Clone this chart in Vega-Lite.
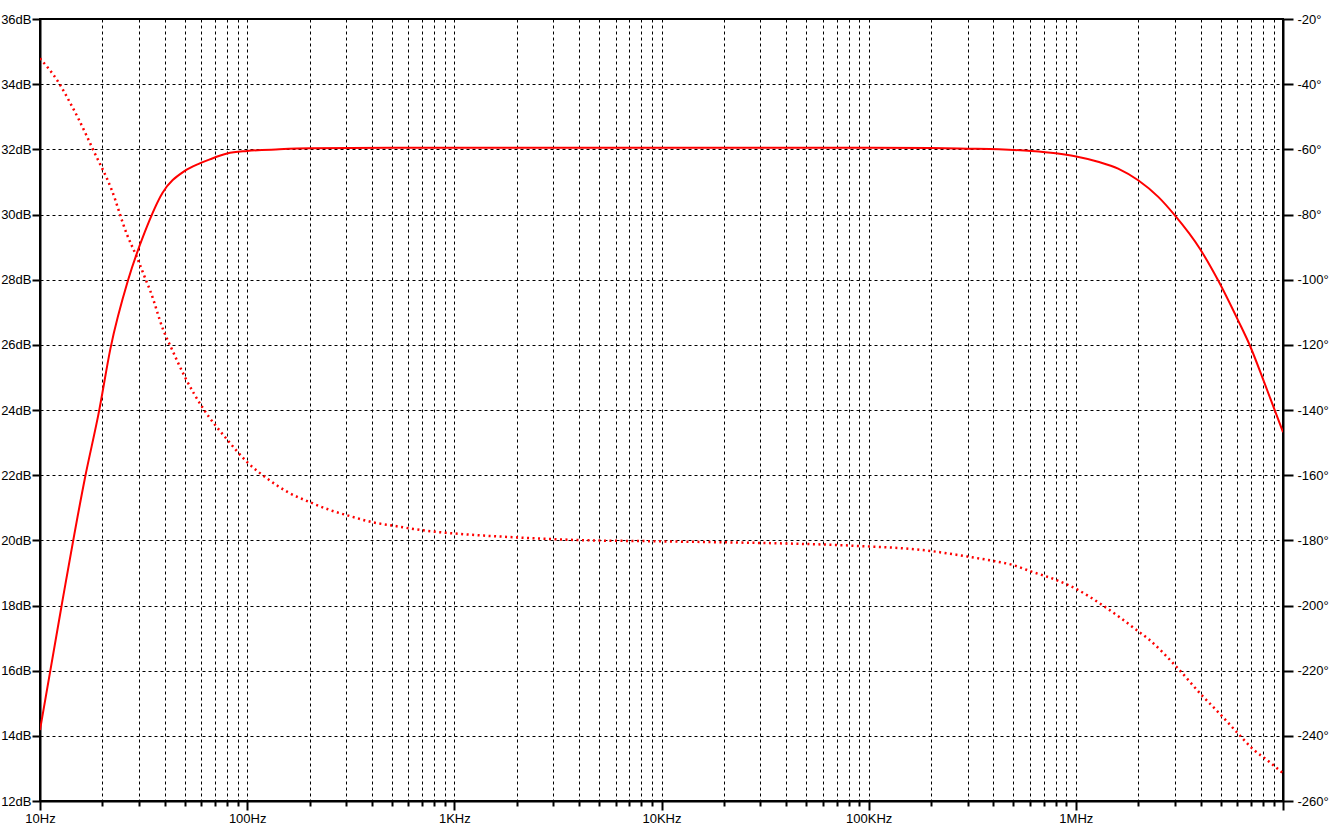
{
  "$schema": "https://vega.github.io/schema/vega-lite/v6.json",
  "width": 1243,
  "height": 782,
  "autosize": {"type": "none"},
  "padding": {"left": 40, "top": 19, "right": 50, "bottom": 27},
  "background": "white",
  "config": {
    "view": {"stroke": "black", "strokeWidth": 2},
    "axis": {
      "labelFont": "Liberation Sans",
      "labelFontSize": 13,
      "labelColor": "black",
      "domainColor": "black",
      "domainWidth": 2,
      "tickColor": "black",
      "tickWidth": 2,
      "gridColor": "black",
      "gridDash": [3, 3],
      "gridWidth": 1,
      "gridOpacity": 1,
      "title": null
    }
  },
  "datasets": {
    "mag": [
      {"f": 10, "dB": 14.18},
      {"f": 12.67, "dB": 17.94},
      {"f": 16.5, "dB": 21.93},
      {"f": 19.3, "dB": 23.98},
      {"f": 21.9, "dB": 25.9},
      {"f": 26.6, "dB": 27.98},
      {"f": 32, "dB": 29.45},
      {"f": 39, "dB": 30.66},
      {"f": 50, "dB": 31.34},
      {"f": 59, "dB": 31.57},
      {"f": 66, "dB": 31.69},
      {"f": 80, "dB": 31.87},
      {"f": 100, "dB": 31.95},
      {"f": 143, "dB": 32.0},
      {"f": 200, "dB": 32.03},
      {"f": 500, "dB": 32.05},
      {"f": 1000, "dB": 32.05},
      {"f": 10000, "dB": 32.05},
      {"f": 100000, "dB": 32.05},
      {"f": 200000, "dB": 32.04},
      {"f": 300000, "dB": 32.02},
      {"f": 424000, "dB": 32.0},
      {"f": 611000, "dB": 31.95},
      {"f": 800000, "dB": 31.88},
      {"f": 991000, "dB": 31.79},
      {"f": 1280000, "dB": 31.62},
      {"f": 1600000, "dB": 31.41},
      {"f": 2000000, "dB": 31.05},
      {"f": 2500000, "dB": 30.54},
      {"f": 3000000, "dB": 29.98},
      {"f": 3970000, "dB": 28.95},
      {"f": 4860000, "dB": 27.98},
      {"f": 6070000, "dB": 26.75},
      {"f": 6920000, "dB": 25.98},
      {"f": 8170000, "dB": 24.8},
      {"f": 10000000, "dB": 23.32}
    ],
    "phase": [
      {"f": 10, "deg": -32.1},
      {"f": 12.3, "deg": -39.5},
      {"f": 14, "deg": -45.8},
      {"f": 15.3, "deg": -50.5},
      {"f": 18.1, "deg": -60.3},
      {"f": 22.2, "deg": -72.5},
      {"f": 26.2, "deg": -85.9},
      {"f": 29.3, "deg": -93.0},
      {"f": 32.5, "deg": -100.2},
      {"f": 34, "deg": -103.3},
      {"f": 39.4, "deg": -115.5},
      {"f": 43.2, "deg": -121.2},
      {"f": 50.1, "deg": -129.9},
      {"f": 61.4, "deg": -139.6},
      {"f": 79.6, "deg": -148.9},
      {"f": 100, "deg": -156.0},
      {"f": 126, "deg": -161.2},
      {"f": 158, "deg": -165.3},
      {"f": 201, "deg": -168.3},
      {"f": 251, "deg": -170.7},
      {"f": 319, "deg": -172.7},
      {"f": 406, "deg": -174.5},
      {"f": 507, "deg": -175.5},
      {"f": 634, "deg": -176.5},
      {"f": 791, "deg": -177.3},
      {"f": 1000, "deg": -177.9},
      {"f": 2000, "deg": -179.1},
      {"f": 3900, "deg": -179.9},
      {"f": 9800, "deg": -180.3},
      {"f": 19900, "deg": -180.6},
      {"f": 41700, "deg": -181.0},
      {"f": 81000, "deg": -181.6},
      {"f": 201000, "deg": -183.3},
      {"f": 308000, "deg": -185.1},
      {"f": 399000, "deg": -186.3},
      {"f": 498000, "deg": -187.6},
      {"f": 611000, "deg": -189.6},
      {"f": 807000, "deg": -192.2},
      {"f": 1010000, "deg": -195.0},
      {"f": 1330000, "deg": -199.7},
      {"f": 2000000, "deg": -207.9},
      {"f": 2240000, "deg": -210.3},
      {"f": 3060000, "deg": -218.8},
      {"f": 4010000, "deg": -227.2},
      {"f": 5050000, "deg": -233.8},
      {"f": 6070000, "deg": -239.3},
      {"f": 7170000, "deg": -244.1},
      {"f": 8480000, "deg": -247.7},
      {"f": 10000000, "deg": -251.5}
    ]
  },
  "encoding": {
    "x": {
      "field": "f",
      "type": "quantitative",
      "scale": {"type": "log", "domain": [10, 10000000], "nice": false},
      "axis": {
        "values": [10,20,30,40,50,60,70,80,90,100,200,300,400,500,600,700,800,900,1000,2000,3000,4000,5000,6000,7000,8000,9000,10000,20000,30000,40000,50000,60000,70000,80000,90000,100000,200000,300000,400000,500000,600000,700000,800000,900000,1000000,2000000,3000000,4000000,5000000,6000000,7000000,8000000,9000000,10000000],
        "labelExpr": "datum.value == 10 ? '10Hz' : datum.value == 100 ? '100Hz' : datum.value == 1000 ? '1KHz' : datum.value == 10000 ? '10KHz' : datum.value == 100000 ? '100KHz' : datum.value == 1000000 ? '1MHz' : ''",
        "labelOverlap": false,
        "labelFlush": false,
        "labelBound": false,
        "labelPadding": 2,
        "grid": true,
        "tickSize": {"condition": {"test": "indexof([10,100,1000,10000,100000,1000000,10000000], datum.value) >= 0", "value": 9}, "value": 5}
      }
    }
  },
  "layer": [
    {
      "data": {"name": "mag"},
      "mark": {"type": "line", "color": "#ff0000", "strokeWidth": 2, "interpolate": "monotone", "clip": true},
      "encoding": {
        "y": {
          "field": "dB",
          "type": "quantitative",
          "scale": {"domain": [12, 36], "nice": false, "zero": false},
          "axis": {
            "orient": "left",
            "values": [12,14,16,18,20,22,24,26,28,30,32,34,36],
            "labelExpr": "datum.value + 'dB'",
            "tickSize": 8,
            "labelPadding": 1,
            "grid": true
          }
        }
      }
    },
    {
      "data": {"name": "phase"},
      "mark": {"type": "line", "color": "#ff0000", "strokeWidth": 2.5, "strokeDash": [2, 3.5], "interpolate": "monotone", "clip": true},
      "encoding": {
        "y": {
          "field": "deg",
          "type": "quantitative",
          "scale": {"domain": [-260, -20], "nice": false, "zero": false},
          "axis": {
            "orient": "right",
            "values": [-260,-240,-220,-200,-180,-160,-140,-120,-100,-80,-60,-40,-20],
            "labelExpr": "datum.value + '°'",
            "tickSize": 10,
            "labelPadding": 4,
            "grid": false
          }
        }
      }
    }
  ],
  "resolve": {"scale": {"y": "independent"}}
}
